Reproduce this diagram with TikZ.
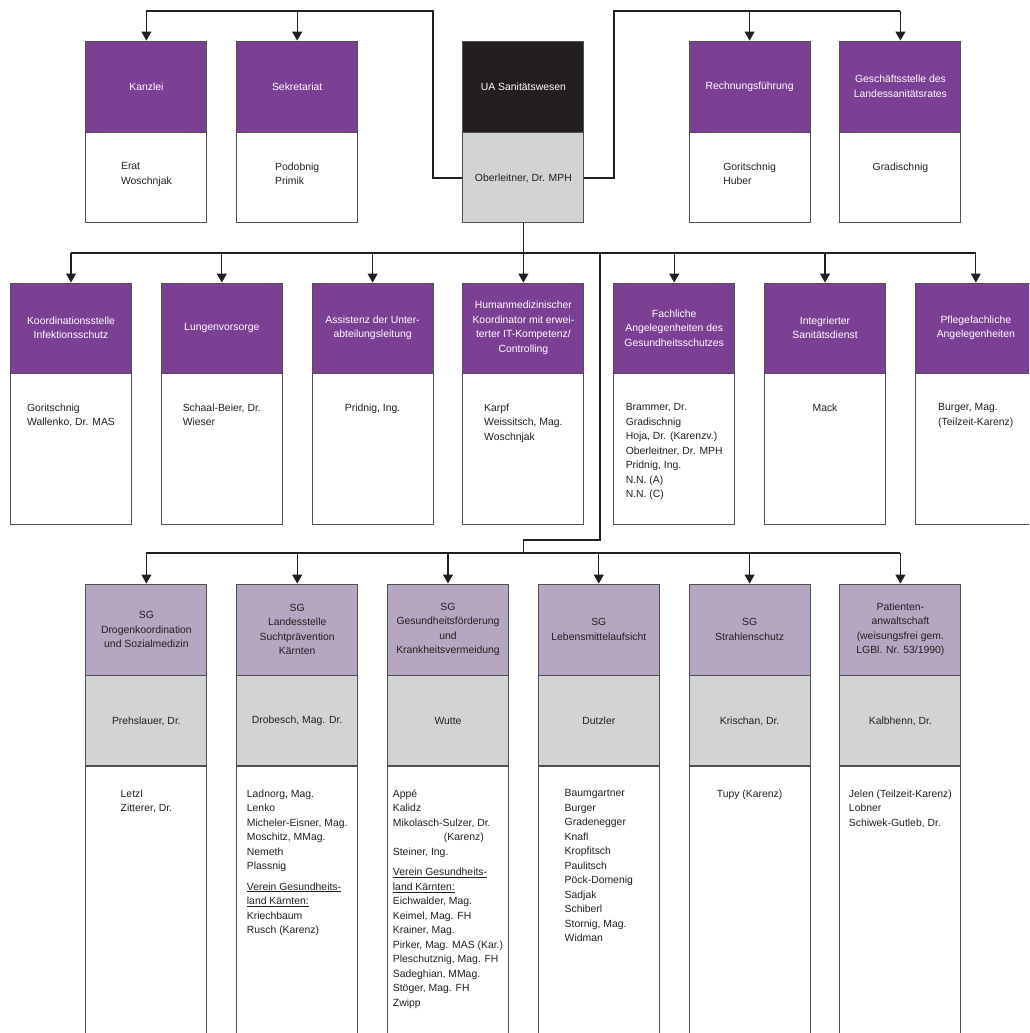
\documentclass[tikz,border=0pt]{standalone}
\usepackage{fontspec}
\setmainfont{Liberation Sans}
\usetikzlibrary{arrows.meta,positioning}

\definecolor{lila}{HTML}{7B3F94}
\definecolor{hlila}{HTML}{B5A6C1}
\definecolor{hgrau}{HTML}{D2D3D5}
\definecolor{dunkel}{HTML}{231F20}
\definecolor{rand}{HTML}{505050}

\tikzset{
  feld/.style={draw=rand, line width=0.9pt, minimum width=121pt, inner sep=0pt, align=center,
    font=\fontsize{10.4pt}{14.5pt}\selectfont},
  kopf/.style={feld, fill=lila, text=white, minimum height=91pt},
  sgkopf/.style={feld, fill=hlila, text=dunkel, minimum height=91pt},
  leiter/.style={feld, fill=hgrau, text=dunkel, minimum height=90pt},
  rumpf/.style={feld, fill=white, minimum height=#1},
  namen/.style={inner sep=0pt, align=left, text=dunkel, font=\fontsize{10.4pt}{14.5pt}\selectfont},
  bus/.style={draw=dunkel, line width=1.8pt},
  zweig/.style={draw=dunkel, line width=1.1pt, -{Triangle[width=10pt,length=9pt]}},
}

\begin{document}
\begin{tikzpicture}[x=1pt,y=-1pt]
\useasboundingbox (0,0) rectangle (1029,1033);
\clip (0,0) rectangle (1029,1033);

% obere Reihe
\node[kopf] (kanzleiK) at (146.4,86.5) {Kanzlei};
\node[rumpf=90pt, below=0pt of kanzleiK] (kanzleiR) {};
\node[namen, below=30pt of kanzleiR.north] (kanzleiT) {Erat\\Woschnjak};

\node[kopf] (sekretK) at (297.2,86.5) {Sekretariat};
\node[rumpf=90pt, below=0pt of sekretK] (sekretR) {};
\node[namen, below=30pt of sekretR.north] (sekretT) {Podobnig\\Primik};

\node[kopf, fill=dunkel] (uaK) at (523.4,86.5) {UA Sanitätswesen};
\node[leiter, below=0pt of uaK] (uaL) {Oberleitner, Dr. MPH};

\node[kopf] (rechnK) at (749.6,86.5) {Rechnungsführung};
\node[rumpf=90pt, below=0pt of rechnK] (rechnR) {};
\node[namen, below=30pt of rechnR.north] (rechnT) {Goritschnig\\Huber};

\node[kopf] (geschK) at (900.4,86.5) {Geschäftsstelle des\\Landessanitätsrates};
\node[rumpf=90pt, below=0pt of geschK] (geschR) {};
\node[namen, below=30pt of geschR.north] (geschT) {Gradischnig};

% mittlere Reihe
\node[kopf, minimum height=90pt] (koordK) at (71,328) {Koordinationsstelle\\Infektionsschutz};
\node[rumpf=151pt, below=0pt of koordK] (koordR) {};
\node[namen, below=30pt of koordR.north] (koordT) {Goritschnig\\Wallenko, Dr. MAS};

\node[kopf, minimum height=90pt] (lungeK) at (221.8,328) {Lungenvorsorge};
\node[rumpf=151pt, below=0pt of lungeK] (lungeR) {};
\node[namen, below=30pt of lungeR.north] (lungeT) {Schaal-Beier, Dr.\\Wieser};

\node[kopf, minimum height=90pt] (assistK) at (372.6,328) {Assistenz der Unter-\\abteilungsleitung};
\node[rumpf=151pt, below=0pt of assistK] (assistR) {};
\node[namen, below=30pt of assistR.north] (assistT) {Pridnig, Ing.};

\node[kopf, minimum height=90pt] (humanK) at (523.4,328) {Humanmedizinischer\\Koordinator mit erwei-\\terter IT-Kompetenz/\\Controlling};
\node[rumpf=151pt, below=0pt of humanK] (humanR) {};
\node[namen, below=30pt of humanR.north] (humanT) {Karpf\\Weissitsch, Mag.\\Woschnjak};

\node[kopf, minimum height=90pt] (fachK) at (674.2,328) {Fachliche\\Angelegenheiten des\\Gesundheitsschutzes};
\node[rumpf=151pt, below=0pt of fachK] (fachR) {};
\node[namen, below=30pt of fachR.north] (fachT) {Brammer, Dr.\\Gradischnig\\Hoja, Dr. (Karenzv.)\\Oberleitner, Dr. MPH\\Pridnig, Ing.\\N.N. (A)\\N.N. (C)};

\node[kopf, minimum height=90pt] (sanK) at (825,328) {Integrierter\\Sanitätsdienst};
\node[rumpf=151pt, below=0pt of sanK] (sanR) {};
\node[namen, below=30pt of sanR.north] (sanT) {Mack};

\node[kopf, minimum height=90pt] (pflegeK) at (975.8,328) {Pflegefachliche\\Angelegenheiten};
\node[rumpf=151pt, below=0pt of pflegeK] (pflegeR) {};
\node[namen, below=30pt of pflegeR.north] (pflegeT) {Burger, Mag.\\(Teilzeit-Karenz)};

% untere Reihe
\node[sgkopf] (drogenK) at (146.4,629.5) {SG\\Drogenkoordination\\und Sozialmedizin};
\node[leiter, below=0pt of drogenK] (drogenL) {Prehslauer, Dr.};
\node[rumpf=340pt, below=0pt of drogenL] (drogenR) {};
\node[namen, below=23pt of drogenR.north] (drogenT) {Letzl\\Zitterer, Dr.};

\node[sgkopf] (suchtK) at (297.2,629.5) {SG\\Landesstelle\\Suchtprävention\\Kärnten};
\node[leiter, below=0pt of suchtK] (suchtL) {Drobesch, Mag. Dr.};
\node[rumpf=340pt, below=0pt of suchtL] (suchtR) {};
\node[namen, below=23pt of suchtR.north] (suchtT) {Ladnorg, Mag.\\Lenko\\Micheler-Eisner, Mag.\\Moschitz, MMag.\\Nemeth\\Plassnig\\[6pt]
  \underline{Verein Gesundheits-}\\\underline{land Kärnten:}\\Kriechbaum\\Rusch (Karenz)};

\node[sgkopf] (gesundK) at (448,629.5) {SG\\Gesundheitsförderung\\und\\Krankheitsvermeidung};
\node[leiter, below=0pt of gesundK] (gesundL) {Wutte};
\node[rumpf=340pt, below=0pt of gesundL] (gesundR) {};
\node[namen, below=23pt of gesundR.north] (gesundT) {Appé\\Kalidz\\Mikolasch-Sulzer, Dr.\\\hspace*{51pt}(Karenz)\\Steiner, Ing.\\[6pt]
  \underline{Verein Gesundheits-}\\\underline{land Kärnten:}\\Eichwalder, Mag.\\Keimel, Mag. FH\\Krainer, Mag.\\Pirker, Mag. MAS (Kar.)\\Pleschutznig, Mag. FH\\Sadeghian, MMag.\\Stöger, Mag. FH\\Zwipp};

\node[sgkopf] (lebensK) at (598.8,629.5) {SG\\Lebensmittelaufsicht};
\node[leiter, below=0pt of lebensK] (lebensL) {Dutzler};
\node[rumpf=340pt, below=0pt of lebensL] (lebensR) {};
\node[namen, below=23pt of lebensR.north] (lebensT) {Baumgartner\\Burger\\Gradenegger\\Knafl\\Kropfitsch\\Paulitsch\\Pöck-Domenig\\Sadjak\\Schiberl\\Stornig, Mag.\\Widman};

\node[sgkopf] (strahlK) at (749.6,629.5) {SG\\Strahlenschutz};
\node[leiter, below=0pt of strahlK] (strahlL) {Krischan, Dr.};
\node[rumpf=340pt, below=0pt of strahlL] (strahlR) {};
\node[namen, below=23pt of strahlR.north] (strahlT) {Tupy (Karenz)};

\node[sgkopf] (patientK) at (900.4,629.5) {Patienten-\\anwaltschaft\\(weisungsfrei gem.\\LGBl. Nr. 53/1990)};
\node[leiter, below=0pt of patientK] (patientL) {Kalbhenn, Dr.};
\node[rumpf=340pt, below=0pt of patientL] (patientR) {};
\node[namen, below=23pt of patientR.north] (patientT) {Jelen (Teilzeit-Karenz)\\Lobner\\Schiwek-Gutleb, Dr.};

% Verbindungen
\coordinate (obenL) at (433,11);
\coordinate (obenR) at (614,11);
\coordinate (mitte) at (0,253);
\coordinate (knick) at (600,540);
\coordinate (unten) at (0,553);

\draw[bus] (uaL.west) -| (obenL) -- (kanzleiK.north |- obenL);
\draw[bus] (uaL.east) -| (obenR) -- (geschK.north |- obenR);
\foreach \n in {kanzleiK,sekretK} \draw[zweig] (\n.north |- obenL) -- (\n.north);
\foreach \n in {rechnK,geschK} \draw[zweig] (\n.north |- obenR) -- (\n.north);

\draw[draw=dunkel, line width=1pt] (uaL.south) -- (uaL.south |- mitte);
\draw[bus] (koordK.north |- mitte) -- (pflegeK.north |- mitte);
\foreach \n in {koordK,lungeK,assistK,humanK,fachK,sanK,pflegeK} \draw[zweig] (\n.north |- mitte) -- (\n.north);

\draw[bus] (knick |- mitte) -- (knick) -| (humanR.south |- unten);
\draw[bus] (drogenK.north |- unten) -- (patientK.north |- unten);
\foreach \n in {drogenK,suchtK,gesundK,lebensK,strahlK,patientK} \draw[zweig] (\n.north |- unten) -- (\n.north);
\end{tikzpicture}
\end{document}
